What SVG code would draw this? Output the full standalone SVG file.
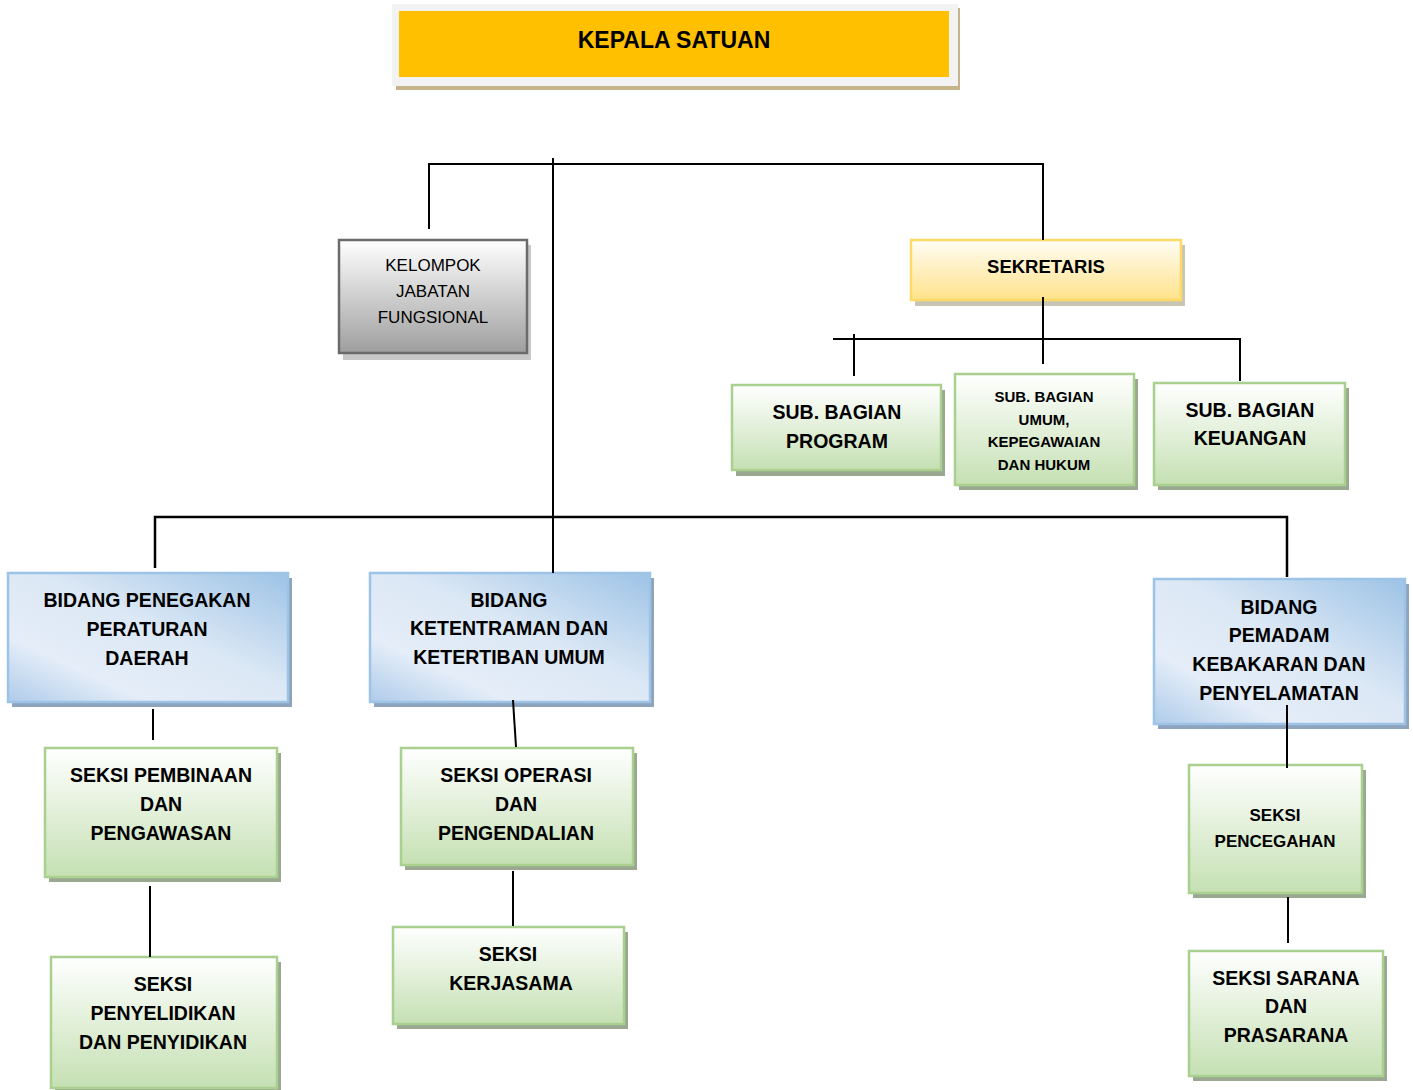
<svg xmlns="http://www.w3.org/2000/svg" width="1413" height="1090" viewBox="0 0 1413 1090">
<defs>
<linearGradient id="gGreen" x1="0" y1="0" x2="0" y2="1">
<stop offset="0" stop-color="#ffffff"/><stop offset="1" stop-color="#c5e0b3"/>
</linearGradient>
<linearGradient id="gYellow" x1="0" y1="0" x2="0" y2="1">
<stop offset="0" stop-color="#fffdf5"/><stop offset="1" stop-color="#ffe28a"/>
</linearGradient>
<linearGradient id="gGray" x1="0" y1="0" x2="0" y2="1">
<stop offset="0" stop-color="#ffffff"/><stop offset="1" stop-color="#9e9e9e"/>
</linearGradient>
<linearGradient id="gBlue" x1="1" y1="0" x2="0" y2="1">
<stop offset="0" stop-color="#9dc3e6"/><stop offset="0.45" stop-color="#dce8f5"/><stop offset="0.75" stop-color="#e4edf8"/><stop offset="1" stop-color="#aecbea"/>
</linearGradient>
</defs>
<style>
.t{font-family:"Liberation Sans",Arial,sans-serif;font-weight:bold;fill:#000;text-anchor:middle}
.b{font-size:19.5px}
.s{font-size:15px}
.m{font-size:17px}
.r{font-family:"Liberation Sans",Arial,sans-serif;font-size:17px;fill:#000;text-anchor:middle}
.green{fill:url(#gGreen);stroke:#a9d08e;stroke-width:2.5}
.gsh{fill:#9aa892}
.blue{fill:url(#gBlue);stroke:#9dc3e6;stroke-width:2.5}
.bsh{fill:#8ea3bd}
.ln{stroke:#000;stroke-width:2;fill:none}
</style>
<rect width="1413" height="1090" fill="#ffffff"/>

<g id="kepala">
<rect x="396" y="8" width="564" height="82" fill="#c5b38a"/>
<rect x="392" y="4" width="566" height="82" fill="#f2f2f2"/>
<rect x="399" y="11" width="550" height="66" fill="#ffc000"/>
<text class="t" x="674" y="48" style="font-size:23px">KEPALA SATUAN</text>
</g>

<g id="kelompok">
<rect x="343" y="245" width="188" height="115" fill="#c8c8c8"/>
<rect x="339" y="240" width="188" height="113" fill="url(#gGray)" stroke="#6b6b6b" stroke-width="2.5"/>
<text class="r" x="433" y="271">KELOMPOK</text>
<text class="r" x="433" y="297">JABATAN</text>
<text class="r" x="433" y="323">FUNGSIONAL</text>
</g>

<g id="sekretaris">
<rect x="915" y="245" width="270" height="61" fill="#c9c5b5"/>
<rect x="911" y="240" width="270" height="60" fill="url(#gYellow)" stroke="#ffd966" stroke-width="2.5"/>
<text class="t" x="1046" y="273" style="font-size:18.5px">SEKRETARIS</text>
</g>

<g id="sub-program">
<rect x="736" y="390" width="209" height="86" class="gsh"/>
<rect x="732" y="385" width="209" height="85" class="green"/>
<text class="t b" x="837" y="419">SUB. BAGIAN</text>
<text class="t b" x="837" y="448">PROGRAM</text>
</g>

<g id="sub-umum">
<rect x="959" y="379" width="179" height="111" class="gsh"/>
<rect x="955" y="374" width="179" height="111" class="green"/>
<text class="t s" x="1044" y="402">SUB. BAGIAN</text>
<text class="t s" x="1044" y="425">UMUM,</text>
<text class="t s" x="1044" y="447">KEPEGAWAIAN</text>
<text class="t s" x="1044" y="470">DAN HUKUM</text>
</g>

<g id="sub-keuangan">
<rect x="1158" y="388" width="191" height="102" class="gsh"/>
<rect x="1154" y="383" width="191" height="102" class="green"/>
<text class="t b" x="1250" y="417">SUB. BAGIAN</text>
<text class="t b" x="1250" y="445">KEUANGAN</text>
</g>

<g id="bidang-penegakan">
<rect x="12" y="578" width="280" height="129" class="bsh"/>
<rect x="8" y="573" width="280" height="129" class="blue"/>
<text class="t b" x="147" y="607">BIDANG PENEGAKAN</text>
<text class="t b" x="147" y="636">PERATURAN</text>
<text class="t b" x="147" y="665">DAERAH</text>
</g>

<g id="bidang-ketentraman">
<rect x="374" y="578" width="280" height="129" class="bsh"/>
<rect x="370" y="573" width="280" height="129" class="blue"/>
<text class="t b" x="509" y="607">BIDANG</text>
<text class="t b" x="509" y="635">KETENTRAMAN DAN</text>
<text class="t b" x="509" y="664">KETERTIBAN UMUM</text>
</g>

<g id="bidang-pemadam">
<rect x="1158" y="584" width="251" height="145" class="bsh"/>
<rect x="1154" y="579" width="251" height="145" class="blue"/>
<text class="t b" x="1279" y="614">BIDANG</text>
<text class="t b" x="1279" y="642">PEMADAM</text>
<text class="t b" x="1279" y="671">KEBAKARAN DAN</text>
<text class="t b" x="1279" y="700">PENYELAMATAN</text>
</g>

<g id="seksi-pembinaan">
<rect x="49" y="753" width="232" height="129" class="gsh"/>
<rect x="45" y="748" width="232" height="129" class="green"/>
<text class="t b" x="161" y="782">SEKSI PEMBINAAN</text>
<text class="t b" x="161" y="811">DAN</text>
<text class="t b" x="161" y="840">PENGAWASAN</text>
</g>

<g id="seksi-penyelidikan">
<rect x="55" y="962" width="226" height="131" class="gsh"/>
<rect x="51" y="957" width="226" height="131" class="green"/>
<text class="t b" x="163" y="991">SEKSI</text>
<text class="t b" x="163" y="1020">PENYELIDIKAN</text>
<text class="t b" x="163" y="1049">DAN PENYIDIKAN</text>
</g>

<g id="seksi-operasi">
<rect x="405" y="753" width="232" height="117" class="gsh"/>
<rect x="401" y="748" width="232" height="117" class="green"/>
<text class="t b" x="516" y="782">SEKSI OPERASI</text>
<text class="t b" x="516" y="811">DAN</text>
<text class="t b" x="516" y="840">PENGENDALIAN</text>
</g>

<g id="seksi-kerjasama">
<rect x="397" y="932" width="231" height="97" class="gsh"/>
<rect x="393" y="927" width="231" height="97" class="green"/>
<text class="t b" x="508" y="961">SEKSI</text>
<text class="t b" x="511" y="990">KERJASAMA</text>
</g>

<g id="seksi-pencegahan">
<rect x="1193" y="770" width="173" height="128" class="gsh"/>
<rect x="1189" y="765" width="173" height="128" class="green"/>
<text class="t m" x="1275" y="821">SEKSI</text>
<text class="t m" x="1275" y="847">PENCEGAHAN</text>
</g>

<g id="seksi-sarana">
<rect x="1193" y="956" width="194" height="125" class="gsh"/>
<rect x="1189" y="951" width="194" height="125" class="green"/>
<text class="t b" x="1286" y="985">SEKSI SARANA</text>
<text class="t b" x="1286" y="1013">DAN</text>
<text class="t b" x="1286" y="1042">PRASARANA</text>
</g>

<g id="connectors">
<path class="ln" d="M553 158 V573"/>
<path class="ln" d="M429 229 V164 H1043 V240"/>
<path class="ln" d="M1043 297 V364"/>
<path class="ln" d="M833 339 H1240 V381"/>
<path class="ln" d="M854 334 V376"/>
<path class="ln" d="M155 568 V517 H1287 V577" style="stroke-width:2.5"/>
<path class="ln" d="M153 709 V740"/>
<path class="ln" d="M150 886 V957"/>
<path class="ln" d="M513 700 L516 747"/>
<path class="ln" d="M513 871 V926"/>
<path class="ln" d="M1287 705 V768"/>
<path class="ln" d="M1288 897 V943"/>
</g>
</svg>
